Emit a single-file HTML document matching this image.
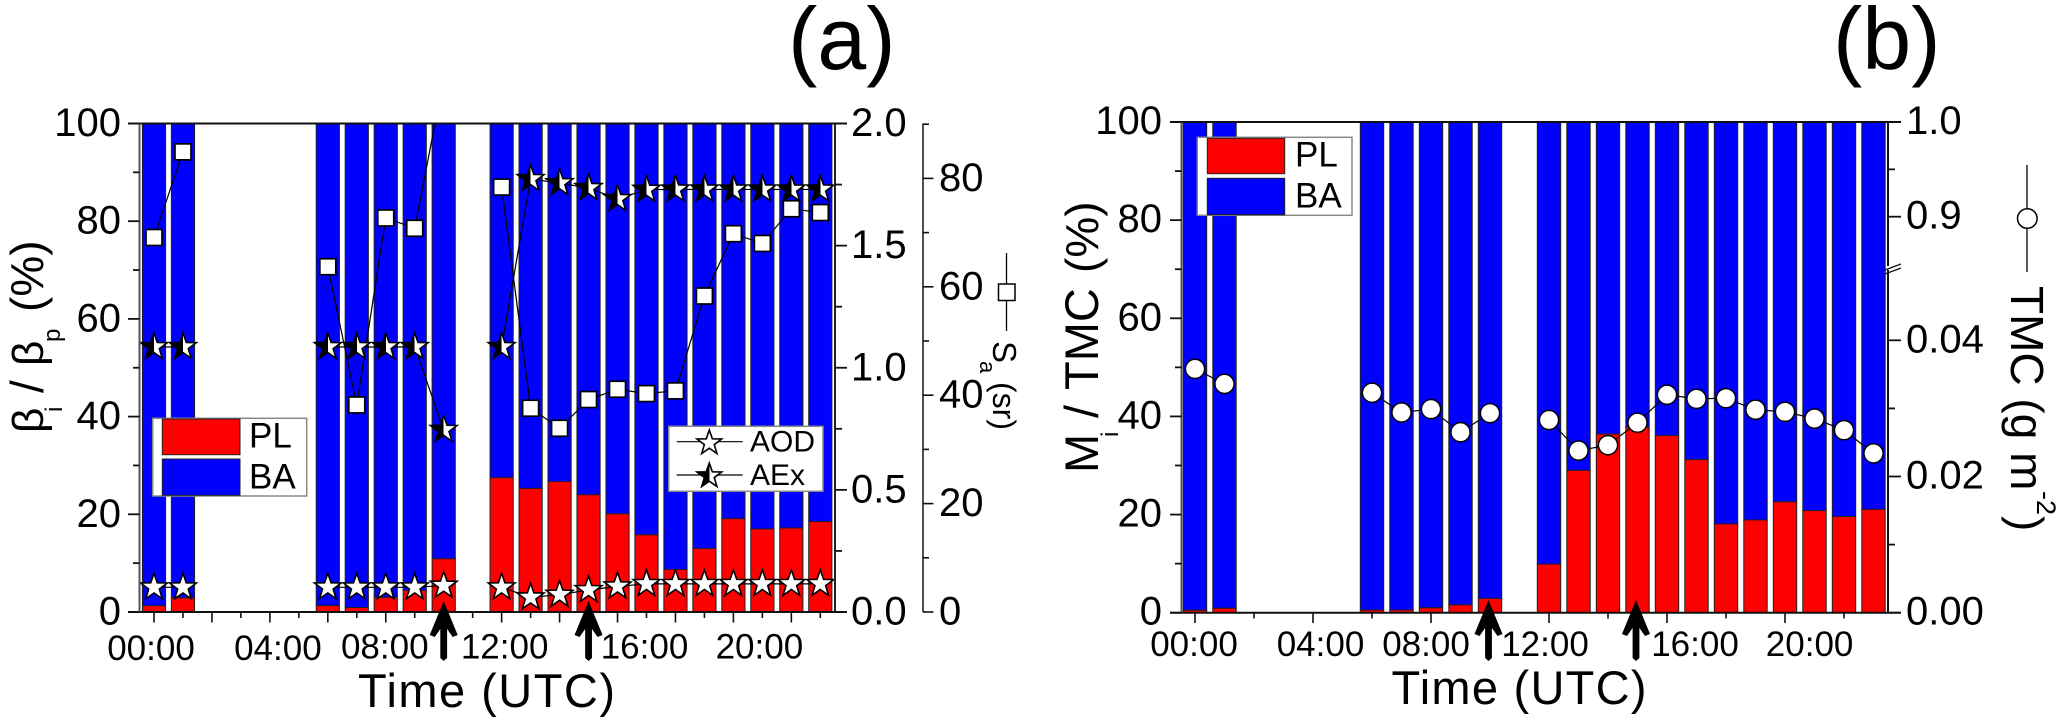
<!DOCTYPE html>
<html lang="en">
<head>
<meta charset="utf-8">
<title>Backscatter and mass fractions</title>
<style>
html,body{margin:0;padding:0;background:#fff;}
svg{display:block;font-family:"Liberation Sans",Arial,sans-serif;}
text{fill:#000;}
</style>
</head>
<body>
<svg id="fig" xmlns="http://www.w3.org/2000/svg" width="2067" height="724" viewBox="0 0 2067 724">
  <defs>
    <linearGradient id="halfFill" x1="0" y1="0" x2="1" y2="0">
      <stop offset="0.5" stop-color="#000"/>
      <stop offset="0.5" stop-color="#fff"/>
    </linearGradient>
    <clipPath id="clipA"><rect x="128" y="123" width="719" height="490"/></clipPath>
    <clipPath id="clipB"><rect x="1170" y="121" width="731" height="493"/></clipPath>
  </defs>
  <g id="marksA"></g>
  <g id="marksB"></g>
  <g id="axesA"></g>
  <g id="axesB"></g>

  <text x="788" y="69" font-size="88">(a)</text>
  <text x="1833" y="69" font-size="88">(b)</text>

  <g font-size="46">
    <text transform="translate(43,433) rotate(-90)" font-size="44">β</text>
    <text transform="translate(62,412) rotate(-90)" font-size="24">i</text>
    <text transform="translate(43,393) rotate(-90)">/</text>
    <text transform="translate(43,366) rotate(-90)" font-size="44">β</text>
    <text transform="translate(60,342) rotate(-90)" font-size="24">p</text>
    <text transform="translate(43,312) rotate(-90)">(%)</text>
  </g>
  <g>
    <line x1="1006.5" y1="253" x2="1006.5" y2="331" stroke="#000" stroke-width="1.3"/>
    <rect x="998.5" y="284" width="16.5" height="16.5" fill="#fff" stroke="#000" stroke-width="1.5"/>
    <text transform="translate(993,341) rotate(90)" font-size="33">S</text>
    <text transform="translate(980,361) rotate(90)" font-size="22">a</text>
    <text transform="translate(993,382) rotate(90)" font-size="32">(sr)</text>
  </g>
  <text x="358" y="707" font-size="47" textLength="257" lengthAdjust="spacing">Time (UTC)</text>

  <g font-size="47">
    <text transform="translate(1098,473) rotate(-90)">M</text>
    <text transform="translate(1118,437) rotate(-90)" font-size="24">i</text>
    <text transform="translate(1098,418) rotate(-90)">/</text>
    <text transform="translate(1098,390) rotate(-90)">TMC</text>
    <text transform="translate(1098,273) rotate(-90)" font-size="46">(%)</text>
  </g>
  <g>
    <line x1="2027" y1="165" x2="2027" y2="272" stroke="#000" stroke-width="1.3"/>
    <circle cx="2027.3" cy="218.5" r="9.8" fill="#fff" stroke="#000" stroke-width="1.5"/>
    <text transform="translate(2011,286) rotate(90)" font-size="46">TMC (g m</text>
    <text transform="translate(2037,491) rotate(90)" font-size="27">-2</text>
    <text transform="translate(2011,516) rotate(90)" font-size="46">)</text>
  </g>
  <text x="1391.5" y="704" font-size="47" textLength="255" lengthAdjust="spacing">Time (UTC)</text>

  <g>
    <rect x="152.7" y="418.3" width="154" height="77.7" fill="#fff" stroke="#888" stroke-width="1.5"/>
    <rect x="162.3" y="419" width="77.7" height="35.7" fill="#f00" stroke="#222" stroke-width="1"/>
    <rect x="162.3" y="459" width="77.7" height="36.3" fill="#00f" stroke="#222" stroke-width="1"/>
    <text x="249" y="447.7" font-size="35">PL</text>
    <text x="249" y="488.3" font-size="35">BA</text>
  </g>
  <g>
    <rect x="1197.3" y="137.3" width="154.7" height="78" fill="#fff" stroke="#888" stroke-width="1.5"/>
    <rect x="1207.3" y="138.3" width="77.4" height="35.4" fill="#f00" stroke="#222" stroke-width="1"/>
    <rect x="1207.3" y="178.3" width="77.4" height="36.4" fill="#00f" stroke="#222" stroke-width="1"/>
    <text x="1295" y="166.7" font-size="35">PL</text>
    <text x="1295" y="207.3" font-size="35">BA</text>
  </g>
  <g id="legendLines">
    <rect x="668.7" y="426.3" width="154.3" height="65" fill="#fff" stroke="#888" stroke-width="1.5"/>
    <line x1="676.7" y1="441.7" x2="742.7" y2="441.7" stroke="#000" stroke-width="1.2"/>
    <line x1="676.7" y1="475" x2="742.7" y2="475" stroke="#000" stroke-width="1.2"/>
    <text x="750" y="451.7" font-size="30">AOD</text>
    <text x="750" y="485" font-size="30">AEx</text>
  </g>
  <g id="arrows"></g>
</svg>
<script>
/* ---------- panel (a) data: index = hour of day, null = no measurement ---------- */
var hours = [0,1,2,3,4,5,6,7,8,9,10,11,12,13,14,15,16,17,18,19,20,21,22,23];
var plA = [1.3,2.9,null,null,null,null,1.3,0.9,3.0,4.4,10.9,null,27.5,25.3,26.7,24.0,20.1,15.8,8.7,13.0,19.1,17.0,17.2,18.5];
var baA = [98.7,97.1,null,null,null,null,98.7,99.1,97.0,95.6,89.1,null,72.5,74.7,73.3,76.0,79.9,84.2,91.3,87.0,80.9,83.0,82.8,81.5];
var saA = [69.1,84.9,null,null,null,null,63.7,38.2,72.7,70.8,98.4,null,78.4,37.6,33.9,39.2,41.1,40.3,40.8,58.3,69.8,68.0,74.4,73.7];
var aodA = [0.101,0.101,null,null,null,null,0.101,0.101,0.101,0.101,0.108,null,0.101,0.060,0.071,0.090,0.105,0.115,0.115,0.115,0.115,0.115,0.115,0.115];
var aexA = [1.085,1.085,null,null,null,null,1.085,1.085,1.085,1.085,0.746,null,1.085,1.773,1.756,1.736,1.691,1.729,1.73,1.73,1.73,1.73,1.73,1.73];

/* ---------- panel (b) data ---------- */
var plB = [0.5,0.9,null,null,null,null,0.55,0.55,1.0,1.6,2.9,null,9.9,29.0,36.4,37.8,36.1,31.2,18.1,18.9,22.6,20.8,19.6,21.05];
var baB = [99.5,99.1,null,null,null,null,99.45,99.45,99.0,98.4,97.1,null,90.1,71.0,63.6,62.2,63.9,68.8,81.9,81.1,77.4,79.2,80.4,78.95];
var tmcB = [0.0358,0.0336,null,null,null,null,0.0323,0.0294,0.0299,0.0265,0.0293,null,0.0283,0.0238,0.0246,0.0279,0.0320,0.0314,0.0315,0.0298,0.0295,0.0285,0.0268,0.0234];

/* ---------- tick values and labels ---------- */
var pctTicks = [0,10,20,30,40,50,60,70,80,90,100];
var pctLabels = ['0','','20','','40','','60','','80','','100'];
var aodTicks = [0,0.25,0.5,0.75,1,1.25,1.5,1.75,2];
var aodLabels = ['0.0','','0.5','','1.0','','1.5','','2.0'];
var saTicks = [0,10,20,30,40,50,60,70,80,90];
var saLabels = ['0','','20','','40','','60','','80',''];
var tmcTicks = [0,0.01,0.02,0.03,0.04];
var tmcLabels = ['0.00','','0.02','','0.04'];
var tmcUpperTicks = [0.9,0.95,1.0];
var tmcUpperLabels = ['0.9','','1.0'];
var timeLabelHours = [0,4,8,12,16,20];
var timeLabels = ['00:00','04:00','08:00','12:00','16:00','20:00'];
var arrowHours = [10,15];

/* ---------- axis functions ---------- */
function xA(h){return 154 + 28.97*h;}
function yA(v){return 612 - 4.885*v;}
function yAod(v){return 612 - 244.25*v;}
function ySa(v){return 612 - 5.42*v;}
function xB(h){return 1195 + 29.5*h;}
function yB(v){return 612.7 - 4.907*v;}
function yTmc(v){return v <= 0.05 ? 612.7 - 6810*v : 122 + (1 - v)*947;}

var NS = 'http://www.w3.org/2000/svg';
function mk(parent, tag, attrs, name, txt){
  var el = document.createElementNS(NS, tag);
  for (var k in attrs) { el.setAttribute(k, attrs[k]); }
  
  
  if (txt !== undefined) { el.textContent = txt; }
  parent.appendChild(el);
  return el;
}
function line(p, x1, y1, x2, y2, w, c, name){
  return mk(p, 'line', {x1:x1, y1:y1, x2:x2, y2:y2, stroke:c||'#000', 'stroke-width':w}, name);
}
function starPts(cx, cy, R){
  var pts = [], r = R*0.4;
  for (var i = 0; i < 10; i++) {
    var a = -Math.PI/2 + i*Math.PI/5, q = i%2 ? r : R;
    pts.push((cx + q*Math.cos(a)).toFixed(2) + ',' + (cy + q*Math.sin(a)).toFixed(2));
  }
  return pts.join(' ');
}
function star(p, cx, cy, R, fill, name){
  return mk(p, 'polygon', {points:starPts(cx,cy,R), fill:fill, stroke:'#000', 'stroke-width':1.6, 'stroke-linejoin':'miter'}, name);
}
function drawBars(p, X, Y, pl, ba, hw){
  hours.forEach(function(h, i){
    if (pl[i] === null) { return; }
    var x = X(h) - hw, w = 2*hw;
    mk(p, 'rect', {x:x, y:Y(pl[i]+ba[i]), width:w, height:Y(pl[i])-Y(pl[i]+ba[i]), fill:'#00f', stroke:'#222', 'stroke-width':1}, 'bar-ba-' + h);
    mk(p, 'rect', {x:x, y:Y(pl[i]), width:w, height:Y(0)-Y(pl[i]), fill:'#f00', stroke:'#222', 'stroke-width':1}, 'bar-pl-' + h);
  });
}
function drawLine(p, X, Y, vals, name){
  var seg = [];
  function flush(){
    if (seg.length > 1) {
      mk(p, 'polyline', {points:seg.join(' '), fill:'none', stroke:'#000', 'stroke-width':1.2}, name);
    }
    seg = [];
  }
  hours.forEach(function(h, i){
    if (vals[i] === null) { flush(); } else { seg.push(X(h).toFixed(2) + ',' + Y(vals[i]).toFixed(2)); }
  });
  flush();
}
function label(p, x, y, s, anchor, name, size){
  return mk(p, 'text', {x:x, y:y, 'font-size':size || 40, 'text-anchor':anchor}, name, s);
}

/* ---------- panel (a) marks ---------- */
var gA = document.getElementById('marksA');
gA.setAttribute('clip-path', 'url(#clipA)');
drawBars(gA, xA, yA, plA, baA, 11.6);
drawLine(gA, xA, ySa, saA, 'sa-line');
drawLine(gA, xA, yAod, aodA, 'aod-line');
drawLine(gA, xA, yAod, aexA, 'aex-line');
hours.forEach(function(h, i){
  if (saA[i] === null) { return; }
  mk(gA, 'rect', {x:xA(h)-8, y:ySa(saA[i])-8, width:16, height:16, fill:'#fff', stroke:'#000', 'stroke-width':1.7}, 'sa-point-' + h);
  star(gA, xA(h), yAod(aodA[i]), 14, '#fff', 'aod-point-' + h);
  star(gA, xA(h), yAod(aexA[i]), 14, 'url(#halfFill)', 'aex-point-' + h);
});

/* ---------- panel (b) marks ---------- */
var gB = document.getElementById('marksB');
gB.setAttribute('clip-path', 'url(#clipB)');
drawBars(gB, xB, yB, plB, baB, 11.7);
drawLine(gB, xB, yTmc, tmcB, 'tmc-line');
hours.forEach(function(h, i){
  if (tmcB[i] === null) { return; }
  mk(gB, 'circle', {cx:xB(h), cy:yTmc(tmcB[i]), r:9.6, fill:'#fff', stroke:'#000', 'stroke-width':1.5}, 'tmc-point-' + h);
});

/* ---------- panel (a) axes ---------- */
var aA = document.getElementById('axesA');
line(aA, 128, 123.5, 847, 123.5, 2, '#111', 'top-axis');
line(aA, 128, 612, 847, 612, 2, '#111', 'x-axis');
line(aA, 139.5, 123.5, 139.5, 612, 2, '#555', 'left-axis');
line(aA, 835, 123.5, 835, 612, 2, '#222', 'aod-axis');
line(aA, 923, 123.5, 923, 612, 1.6, '#222', 'sa-axis');
pctTicks.forEach(function(v, i){
  line(aA, pctLabels[i] ? 128 : 133, yA(v), 139.5, yA(v), 1.8, '#111', 'left-tick');
  if (pctLabels[i]) { label(aA, 121, yA(v)+12.5, pctLabels[i], 'end', 'left-tick-label'); }
});
aodTicks.forEach(function(v, i){
  line(aA, 835, yAod(v), aodLabels[i] ? 847 : 842, yAod(v), 1.8, '#111', 'aod-tick');
  if (aodLabels[i]) { label(aA, 851, yAod(v)+12.5, aodLabels[i], 'start', 'aod-tick-label'); }
});
saTicks.forEach(function(v, i){
  line(aA, 923, ySa(v), saLabels[i] ? 933.5 : 929, ySa(v), 1.6, '#111', 'sa-tick');
  if (saLabels[i]) { label(aA, 939, ySa(v)+12.5, saLabels[i], 'start', 'sa-tick-label'); }
});
hours.forEach(function(h){
  line(aA, xA(h), 612, xA(h), h%2===0 ? 622.5 : 618, 1.6, '#111', 'time-tick');
});
var labelShiftA = [-3,8,-1,3,27,26];
var labelBaseA = [660,660,658.5,658.3,658.3,658.3];
timeLabels.forEach(function(s, i){
  label(aA, xA(timeLabelHours[i]) + labelShiftA[i], labelBaseA[i], s, 'middle', 'time-tick-label', 35);
});

/* ---------- panel (b) axes ---------- */
var aB = document.getElementById('axesB');
line(aB, 1170, 122, 1901, 122, 2, '#111', 'top-axis');
line(aB, 1170, 612.7, 1901, 612.7, 2, '#111', 'x-axis');
line(aB, 1181.5, 122, 1181.5, 612.7, 2, '#555', 'left-axis');
line(aB, 1888, 122, 1888, 266, 2, '#111', 'tmc-axis-upper');
line(aB, 1888, 270, 1888, 612.7, 2, '#111', 'tmc-axis-lower');
line(aB, 1885, 270, 1901, 264, 1.3, '#111', 'axis-break-mark');
line(aB, 1885, 274, 1901, 268, 1.3, '#111', 'axis-break-mark');
pctTicks.forEach(function(v, i){
  line(aB, pctLabels[i] ? 1170 : 1175, yB(v), 1181.5, yB(v), 1.8, '#111', 'left-tick');
  if (pctLabels[i]) { label(aB, 1162, yB(v)+12, pctLabels[i], 'end', 'left-tick-label'); }
});
tmcTicks.forEach(function(v, i){
  line(aB, 1888, yTmc(v), tmcLabels[i] ? 1901 : 1895, yTmc(v), 1.8, '#111', 'tmc-tick');
  if (tmcLabels[i]) { label(aB, 1906, yTmc(v)+12, tmcLabels[i], 'start', 'tmc-tick-label'); }
});
tmcUpperTicks.forEach(function(v, i){
  line(aB, 1888, yTmc(v), tmcUpperLabels[i] ? 1901 : 1895, yTmc(v), 1.8, '#111', 'tmc-tick');
  if (tmcUpperLabels[i]) { label(aB, 1906, yTmc(v)+12, tmcUpperLabels[i], 'start', 'tmc-tick-label'); }
});
hours.forEach(function(h){
  if (h%2) { return; }
  line(aB, xB(h), 612.7, xB(h), h%4===0 ? 623 : 618.5, 1.6, '#111', 'time-tick');
});
var labelShiftB = [-1,7.5,-5,-4,28,24.6];
timeLabels.forEach(function(s, i){
  label(aB, xB(timeLabelHours[i]) + labelShiftB[i], 656, s, 'middle', 'time-tick-label', 35);
});

/* ---------- AOD / AEx legend markers ---------- */
var lg = document.getElementById('legendLines');
star(lg, 709.3, 443, 13, '#fff', 'legend-marker-aod');
star(lg, 709.3, 476, 13, 'url(#halfFill)', 'legend-marker-aex');

/* ---------- arrows ---------- */
var ar = document.getElementById('arrows');
function arrow(x, tip, end){
  var b = tip + 34;
  var pts = [[x,tip],[x+14,b],[x+9,b+2],[x+3.4,b-6],[x+3.4,end-3],[x,end],[x-3.4,end-3],[x-3.4,b-6],[x-9,b+2],[x-14,b]];
  mk(ar, 'polygon', {points:pts.map(function(q){return q.join(',');}).join(' '), fill:'#000'}, 'event-arrow');
}
arrowHours.forEach(function(h){
  arrow(xA(h), 601, 661);
  arrow(xB(h) - 1.5, 600, 661);
});
</script>
</body>
</html>
